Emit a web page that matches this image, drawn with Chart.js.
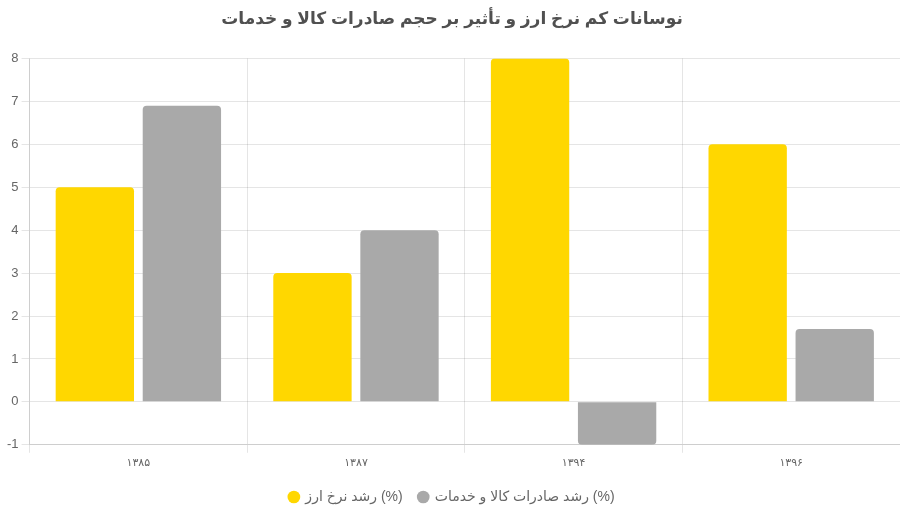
<!DOCTYPE html>
<html>
<head>
<meta charset="utf-8">
<script src="https://cdn.jsdelivr.net/npm/chart.js@4/dist/chart.umd.min.js"></script>
<style>
  html, body { margin: 0; padding: 0; background: #fff; }
  #wrap { width: 900px; height: 519px; }
</style>
</head>
<body>
<div id="wrap"><canvas id="chart"></canvas></div>
<script>
const years = ['۱۳۸۵', '۱۳۸۷', '۱۳۹۴', '۱۳۹۶'];
const fxGrowth = [5, 3, 8, 6];
const exportGrowth = [6.9, 4, -1, 1.7];
const fxLabel = 'رشد نرخ ارز (%)';
const exportLabel = 'رشد صادرات کالا و خدمات (%)';
const chartTitle = 'نوسانات کم نرخ ارز و تأثیر بر حجم صادرات کالا و خدمات';

const fontFamily = "'Liberation Sans', 'DejaVu Sans', sans-serif";

new Chart(document.getElementById('chart'), {
  type: 'bar',
  data: {
    labels: years,
    datasets: [
      { label: fxLabel, data: fxGrowth, backgroundColor: '#FFD700', borderRadius: 4 },
      { label: exportLabel, data: exportGrowth, backgroundColor: '#A9A9A9', borderRadius: 4 }
    ]
  },
  options: {
    responsive: true,
    maintainAspectRatio: false,
    animation: false,
    layout: { padding: { left: 4, right: 0, top: 4, bottom: 5 } },
    plugins: {
      title: {
        display: true,
        text: chartTitle,
        color: '#505050',
        font: { size: 17, weight: 'bold', family: fontFamily },
        padding: { top: 5, bottom: 29 }
      },
      legend: {
        position: 'bottom',
        labels: {
          usePointStyle: true,
          pointStyle: 'circle',
          boxWidth: 9,
          boxHeight: 9,
          padding: 16,
          color: '#666',
          font: { size: 14, family: fontFamily }
        }
      },
      tooltip: { enabled: false }
    },
    scales: {
      x: {
        grid: { color: 'rgba(0,0,0,0.1)', offset: true },
        ticks: { color: '#666', font: { size: 11, family: fontFamily }, padding: 4 }
      },
      y: {
        min: -1,
        max: 8,
        ticks: { stepSize: 1, color: '#666', font: { size: 13, family: fontFamily } },
        grid: { color: 'rgba(0,0,0,0.1)' }
      }
    }
  }
});
</script>
</body>
</html>
